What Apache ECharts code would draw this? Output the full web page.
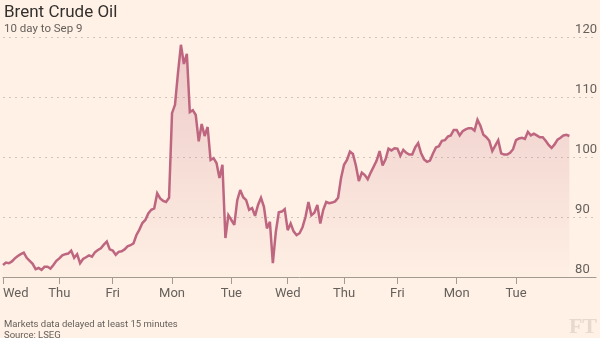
<!DOCTYPE html>
<html>
<head>
<meta charset="utf-8">
<script src="https://cdn.jsdelivr.net/npm/echarts@6/dist/echarts.min.js"></script>
<style>
html,body{margin:0;padding:0;background:#FFF1E5;}
#c{width:600px;height:338px;}
</style>
</head>
<body>
<div id="c"></div>
<script>
// Day labels for the x axis (one trading day each)
const dayLabels = ['Wed', 'Thu', 'Fri', 'Mon', 'Tue', 'Wed', 'Thu', 'Fri', 'Mon', 'Tue'];
// Intraday prices, $/barrel
const aug27 = [82.0,82.4,82.3,82.6,83.1,83.5,83.8,84.05,83.2,82.7,82.2,81.3,81.5,81.2,81.7,81.7,81.4,82.0,82.7];
const aug28 = [83.1,83.6,83.8,83.9,84.4,83.2,83.8,82.3,83.0,83.3,83.6,83.4,84.1,84.5,84.8,85.4,85.9,84.6];
const aug29 = [84.4,83.7,84.2,84.3,84.6,85.1,85.3,85.6,87.0,87.9,89.0,89.5,90.6,91.2,91.45,93.95,93.1,92.7,92.5,93.2];
const sep01 = [107.3,108.7,114.0,118.7,115.5,117.2,107.5,107.8,107.0,102.6,105.5,103.5,105.0,99.5,99.8,99.0,96.5,98.7,86.5,90.3];
const sep02 = [89.5,88.7,92.8,94.5,93.3,92.8,91.2,91.5,90.2,92.0,93.2,91.7,88.1,89.2,82.3,87.5,90.8,90.9,91.3];
const sep03 = [87.8,88.9,87.6,87.0,87.3,88.3,90.0,92.5,90.3,90.7,92.0,88.9,91.2,92.5,92.3,92.4,92.6,93.2,96.5];
const sep04 = [98.7,99.5,100.9,100.5,98.6,96.0,97.4,97.0,96.3,97.4,98.4,99.4,101.0,98.6,99.6,101.4,101.1,101.45];
const sep05 = [101.4,100.2,101.2,100.7,100.4,100.4,101.6,102.3,100.6,99.6,99.2,99.4,100.6,101.6,101.8,102.7,102.8,103.4,103.6,104.5];
const sep08 = [104.5,103.6,104.3,104.6,104.8,104.8,104.4,106.2,105.2,103.7,103.3,102.7,101.0,101.9,102.8,100.6,100.4,100.4,100.7,101.3];
const sep09 = [102.8,103.1,103.2,103.0,104.2,103.6,103.9,103.6,103.3,103.3,102.7,102.0,101.5,102.1,102.9,103.2,103.6,103.7,103.5];
// Y axis ticks
const yTicks = [80, 90, 100, 110, 120];

const dayValues = [aug27, aug28, aug29, sep01, sep02, sep03, sep04, sep05, sep08, sep09];
const PAD = 9; // empty slots after the last price, so the axis runs on to the right edge

const labelAt = [];
const values = [];
dayValues.forEach((arr, d) => arr.forEach((v, i) => { labelAt.push(i === 0 ? dayLabels[d] : ''); values.push(v); }));
for (let k = 0; k < PAD; k++) labelAt.push('');
const categories = labelAt.map((_, i) => String(i));

const FONT = 'Roboto';
const chart = echarts.init(document.getElementById('c'), null, {renderer: 'canvas'});
chart.setOption({
  backgroundColor: '#FFF1E5',
  animation: false,
  title: [
    {text: 'Brent Crude Oil', left: -1, top: -1, textStyle: {fontFamily: FONT, fontSize: 17, fontWeight: 'normal', color: '#33302E'}},
    {text: '10 day to Sep 9', left: -1, top: 18, textStyle: {fontFamily: FONT, fontSize: 11.5, fontWeight: 'normal', color: '#66605C'}},
    {text: 'Markets data delayed at least 15 minutes', left: -1, top: 315, textStyle: {fontFamily: FONT, fontSize: 9.5, fontWeight: 'normal', color: '#66605C'}},
    {text: 'Source: LSEG', left: -1, top: 326, textStyle: {fontFamily: FONT, fontSize: 9.5, fontWeight: 'normal', color: '#66605C'}}
  ],
  graphic: [{
    type: 'text', right: 3, bottom: 0,
    style: {text: 'FT', font: 'bold 22px "Liberation Serif"', fill: '#E6D9CD'}
  }],
  grid: {left: 2, right: 1.2, top: 37, bottom: 61, containLabel: false},
  xAxis: {
    type: 'category',
    data: categories,
    boundaryGap: false,
    axisLine: {show: true, lineStyle: {color: '#A39A92', width: 1}},
    axisTick: {show: true, length: 7, interval: (i) => labelAt[i] !== '', lineStyle: {color: '#A39A92'}},
    axisLabel: {
      interval: (i) => labelAt[i] !== '',
      formatter: (v, i) => labelAt[i],
      fontFamily: FONT, fontSize: 13, color: '#66605C', margin: 10,
      alignMinLabel: 'left'
    },
    splitLine: {show: false}
  },
  yAxis: {
    type: 'value',
    position: 'right',
    min: yTicks[0], max: yTicks[yTicks.length - 1], interval: 10,
    axisLine: {show: false},
    axisTick: {show: false},
    axisLabel: {
      inside: true, margin: 21, align: 'left', verticalAlign: 'bottom',
      fontFamily: FONT, fontSize: 13, color: '#66605C', padding: [0, 0, 1, 0]
    },
    splitLine: {show: true, lineStyle: {color: '#CFC5BA', type: [2, 4], width: 1}}
  },
  series: [{
    type: 'line',
    data: values,
    showSymbol: false,
    symbol: 'none',
    sampling: 'none',
    z: 3,
    lineStyle: {color: '#BE6580', width: 2.5, join: 'miter', miterLimit: 3},
    areaStyle: {
      color: new echarts.graphic.LinearGradient(0, 0, 0, 1, [
        {offset: 0, color: 'rgba(192,103,127,0.40)'},
        {offset: 1, color: 'rgba(192,103,127,0.02)'}
      ])
    }
  }]
});
</script>
</body>
</html>
